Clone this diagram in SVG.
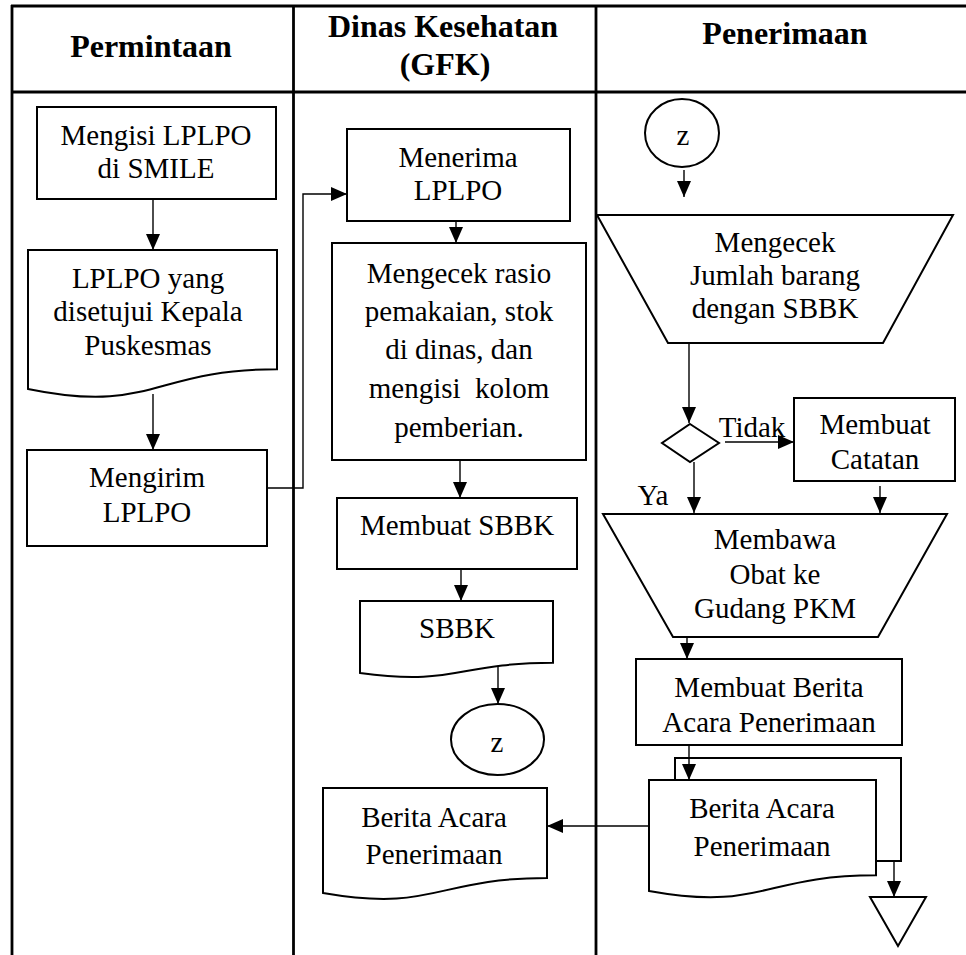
<svg xmlns="http://www.w3.org/2000/svg" width="966" height="955" viewBox="0 0 966 955" font-family="Liberation Serif">
  <style>
    .grid { stroke: #000; stroke-width: 2.8; fill: none; }
    .shape { stroke: #000; stroke-width: 2; fill: #fff; }
    .conn { stroke: #000; stroke-width: 1.4; fill: none; }
    .arrow { marker-end: url(#head); }
    text { font-family: "Liberation Serif", "Times New Roman", serif; font-size: 29px; fill: #000; text-anchor: middle; }
    .hdr { font-weight: bold; font-size: 32px; }
  </style>
  <defs>
    <marker id="head" markerUnits="userSpaceOnUse" markerWidth="16" markerHeight="14" refX="16" refY="7" orient="auto">
      <path d="M0,0 L16,7 L0,14 z" fill="#000"/>
    </marker>
  </defs>

  <rect width="966" height="955" fill="#fff"/>

  <!-- swimlane grid -->
  <g id="lanes">
    <line class="grid" x1="11" y1="6" x2="966" y2="6"/>
    <line class="grid" x1="11" y1="92" x2="966" y2="92"/>
    <line class="grid" x1="12" y1="5" x2="12" y2="955"/>
    <line class="grid" x1="293.5" y1="5" x2="293.5" y2="955"/>
    <line class="grid" x1="596" y1="5" x2="596" y2="955"/>
    <text class="hdr" x="151" y="57">Permintaan</text>
    <text class="hdr" x="443" y="37">Dinas Kesehatan</text>
    <text class="hdr" x="445" y="75">(GFK)</text>
    <text class="hdr" x="785" y="44">Penerimaan</text>
  </g>

  <!-- lane 1: Permintaan -->
  <g id="mengisi-lplpo">
    <rect class="shape" x="37" y="107" width="239" height="92"/>
    <text x="156" y="145">Mengisi LPLPO</text>
    <text x="156" y="178">di SMILE</text>
  </g>
  <g id="lplpo-disetujui">
    <path class="shape" d="M28,250 H277 V369.3 C152.5,369.3 152.5,414.7 28,389 Z"/>
    <text x="148" y="288">LPLPO yang</text>
    <text x="148" y="321">disetujui Kepala</text>
    <text x="148" y="355">Puskesmas</text>
  </g>
  <g id="mengirim-lplpo">
    <rect class="shape" x="27" y="450" width="240" height="96"/>
    <text x="147" y="487">Mengirim</text>
    <text x="147" y="522">LPLPO</text>
  </g>

  <!-- lane 2: Dinas Kesehatan (GFK) -->
  <g id="menerima-lplpo">
    <rect class="shape" x="347" y="129" width="223" height="92"/>
    <text x="458" y="167">Menerima</text>
    <text x="458" y="200">LPLPO</text>
  </g>
  <g id="mengecek-rasio">
    <rect class="shape" x="332" y="243" width="254" height="217"/>
    <text x="459" y="283">Mengecek rasio</text>
    <text x="459" y="321">pemakaian, stok</text>
    <text x="459" y="359">di dinas, dan</text>
    <text x="459" y="398" style="white-space:pre">mengisi  kolom</text>
    <text x="459" y="437">pemberian.</text>
  </g>
  <g id="membuat-sbbk">
    <rect class="shape" x="337" y="498" width="240" height="71"/>
    <text x="457" y="535">Membuat SBBK</text>
  </g>
  <g id="sbbk">
    <path class="shape" d="M360,601 H553 V662.8 C456.5,662.8 456.5,686.2 360,673 Z"/>
    <text x="457" y="638">SBBK</text>
  </g>
  <g id="konektor-z-keluar">
    <ellipse class="shape" cx="497.5" cy="739.5" rx="46.5" ry="35.5"/>
    <text x="497" y="752">z</text>
  </g>
  <g id="berita-acara-gfk">
    <path class="shape" d="M323,788 H547 V878 C435,878 435,912.4 323,893 Z"/>
    <text x="434" y="827">Berita Acara</text>
    <text x="434" y="864">Penerimaan</text>
  </g>

  <!-- lane 3: Penerimaan -->
  <g id="konektor-z-masuk">
    <ellipse class="shape" cx="682" cy="133" rx="37" ry="34"/>
    <text x="683" y="145">z</text>
  </g>
  <g id="mengecek-jumlah">
    <path class="shape" d="M597,215 H953 L883,343 H668 Z"/>
    <text x="775" y="252">Mengecek</text>
    <text x="775" y="285">Jumlah barang</text>
    <text x="775" y="318">dengan SBBK</text>
  </g>
  <g id="keputusan">
    <path class="shape" d="M690,424 L719,443 L690,462 L662,443 Z"/>
    <text x="752" y="437">Tidak</text>
    <text x="653" y="505">Ya</text>
  </g>
  <g id="membuat-catatan">
    <rect class="shape" x="794" y="398" width="161" height="83"/>
    <text x="875" y="434">Membuat</text>
    <text x="875" y="469">Catatan</text>
  </g>
  <g id="membawa-obat">
    <path class="shape" d="M603,514 H947 L878,637 H673 Z"/>
    <text x="775" y="549">Membawa</text>
    <text x="775" y="584">Obat ke</text>
    <text x="775" y="618">Gudang PKM</text>
  </g>
  <g id="membuat-berita-acara">
    <rect class="shape" x="636" y="659" width="266" height="86"/>
    <text x="769" y="697">Membuat Berita</text>
    <text x="769" y="732">Acara Penerimaan</text>
  </g>
  <g id="berita-acara-penerimaan">
    <path class="shape" d="M675,780 V758 H901 V861 H876"/>
    <path class="shape" d="M649,780 H876 V875.3 C762.5,875.3 762.5,911.5 649,891 Z"/>
    <text x="762" y="818">Berita Acara</text>
    <text x="762" y="856">Penerimaan</text>
  </g>
  <g id="arsip">
    <path class="shape" d="M870,897 H926 L898,946 Z" stroke-width="1.5"/>
  </g>

  <!-- connectors -->
  <g id="connectors">
    <line class="conn arrow" x1="153" y1="199" x2="153" y2="250"/>
    <line class="conn arrow" x1="153" y1="394" x2="153" y2="450"/>
    <polyline class="conn arrow" points="267,488 303,488 303,194 347,194"/>
    <line class="conn arrow" x1="456" y1="221" x2="456" y2="243"/>
    <line class="conn arrow" x1="460" y1="460" x2="460" y2="498"/>
    <line class="conn arrow" x1="461" y1="569" x2="461" y2="601"/>
    <line class="conn arrow" x1="498" y1="666" x2="498" y2="704"/>
    <line class="conn arrow" x1="684" y1="170" x2="684" y2="197"/>
    <line class="conn arrow" x1="689" y1="343" x2="689" y2="423"/>
    <line class="conn arrow" x1="725" y1="442" x2="794" y2="442"/>
    <line class="conn arrow" x1="880" y1="486" x2="880" y2="513"/>
    <line class="conn arrow" x1="694" y1="462" x2="694" y2="513"/>
    <line class="conn arrow" x1="687" y1="637" x2="687" y2="659"/>
    <line class="conn arrow" x1="689" y1="745" x2="689" y2="780"/>
    <line class="conn arrow" x1="649" y1="826" x2="547" y2="826"/>
    <line class="conn arrow" x1="894" y1="861" x2="894" y2="897"/>
  </g>
</svg>
